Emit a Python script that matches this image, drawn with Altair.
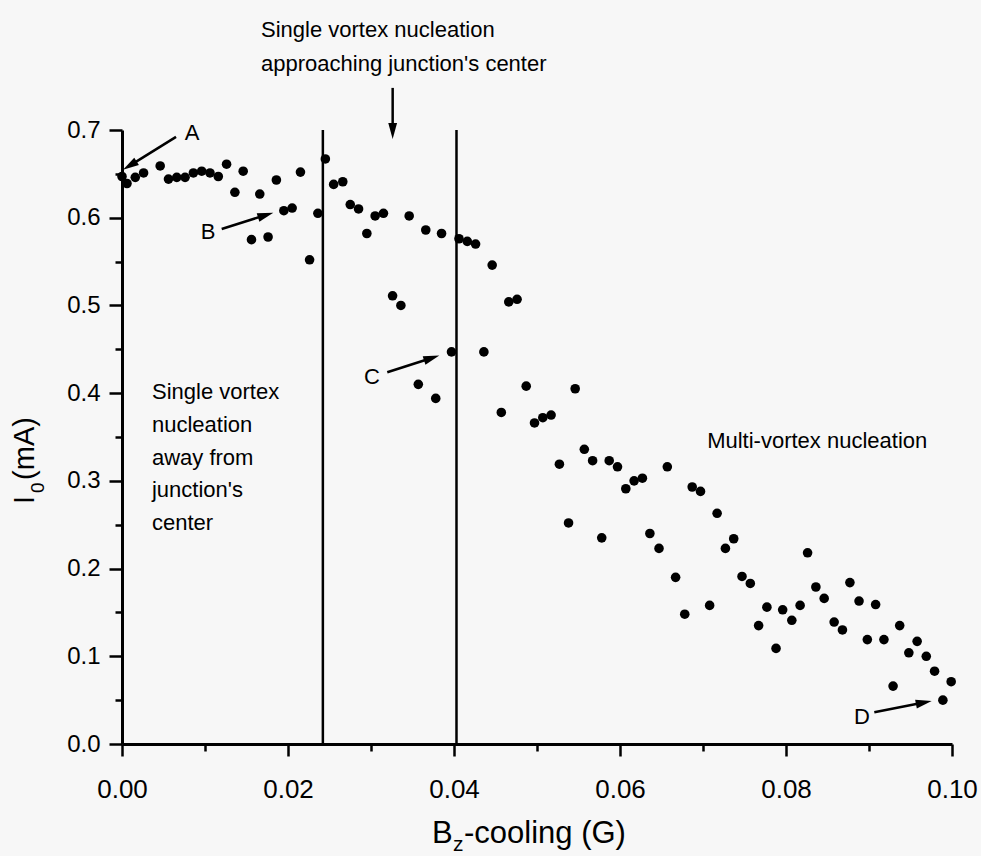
import math
import altair as alt
import pandas as pd

# ---------------- data ----------------
bz = [0.0000, 0.0006, 0.0016, 0.0026, 0.0046, 0.0056, 0.0066, 0.0076, 0.0086, 0.0096,
      0.0106, 0.0116, 0.0126, 0.0136, 0.0146, 0.0156, 0.0166, 0.0176, 0.0186, 0.0195,
      0.0205, 0.0215, 0.0226, 0.0236, 0.0245, 0.0255, 0.0266, 0.0275, 0.0285, 0.0295,
      0.0305, 0.0315, 0.0326, 0.0336, 0.0346, 0.0357, 0.0366, 0.0378, 0.0385, 0.0397,
      0.0406, 0.0416, 0.0426, 0.0436, 0.0446, 0.0457, 0.0466, 0.0476, 0.0487, 0.0497,
      0.0507, 0.0517, 0.0527, 0.0538, 0.0546, 0.0557, 0.0567, 0.0578, 0.0587, 0.0597,
      0.0607, 0.0617, 0.0627, 0.0636, 0.0647, 0.0657, 0.0667, 0.0678, 0.0687, 0.0697,
      0.0708, 0.0717, 0.0727, 0.0737, 0.0747, 0.0757, 0.0767, 0.0777, 0.0788, 0.0796,
      0.0807, 0.0817, 0.0826, 0.0836, 0.0846, 0.0858, 0.0868, 0.0877, 0.0888, 0.0898,
      0.0908, 0.0918, 0.0929, 0.0937, 0.0948, 0.0958, 0.0969, 0.0979, 0.0989, 0.0999]
i0 = [0.647, 0.639, 0.646, 0.651, 0.659, 0.644, 0.646, 0.646, 0.651, 0.653,
      0.651, 0.647, 0.661, 0.629, 0.653, 0.575, 0.627, 0.578, 0.643, 0.608,
      0.611, 0.652, 0.552, 0.605, 0.667, 0.638, 0.641, 0.615, 0.610, 0.582,
      0.602, 0.605, 0.511, 0.500, 0.602, 0.410, 0.586, 0.394, 0.582, 0.447,
      0.576, 0.573, 0.570, 0.447, 0.546, 0.378, 0.504, 0.507, 0.408, 0.366,
      0.372, 0.375, 0.319, 0.252, 0.405, 0.336, 0.323, 0.235, 0.323, 0.316,
      0.291, 0.300, 0.303, 0.240, 0.223, 0.316, 0.190, 0.148, 0.293, 0.288,
      0.158, 0.263, 0.223, 0.234, 0.191, 0.183, 0.135, 0.156, 0.109, 0.153,
      0.141, 0.158, 0.218, 0.179, 0.166, 0.139, 0.130, 0.184, 0.163, 0.119,
      0.159, 0.119, 0.066, 0.135, 0.104, 0.117, 0.100, 0.083, 0.050, 0.071]

region_bounds = [0.0242, 0.0403]

x_ticks = [round(i * 0.01, 2) for i in range(11)]
y_ticks = [round(i * 0.05, 2) for i in range(15)]

# arrows: label, tail (x, y), tip (x, y) in data units
arrow_names = ["A", "B", "C", "D", "top"]
arrow_tail_x = [0.00651, 0.01201, 0.03196, 0.09064, 0.03261]
arrow_tail_y = [0.6922, 0.5872, 0.4238, 0.0361, 0.7480]
arrow_tip_x = [0.00012, 0.01823, 0.03823, 0.09755, 0.03261]
arrow_tip_y = [0.6546, 0.6058, 0.4428, 0.0490, 0.6898]

# point labels
letters = ["A", "B", "C", "D"]
letter_x = [0.00843, 0.01036, 0.03012, 0.08916]
letter_y = [0.6967, 0.5838, 0.4185, 0.0308]

# annotation text lines (left aligned, baseline)
note_text = ["Single vortex nucleation", "approaching junction's center",
             "Single vortex", "nucleation", "away from", "junction's", "center",
             "Multi-vortex nucleation"]
note_x = [0.01675, 0.01675, 0.00361, 0.00361, 0.00361, 0.00361, 0.00361, 0.0705]
note_y = [0.806, 0.7673, 0.3934, 0.3558, 0.3181, 0.2816, 0.2440, 0.3375]

# axis titles, split into pieces for subscripts
x_title_parts = ["B", "z", "-cooling (G)"]
y_title_parts = ["I", "0", "(mA)"]

# ---------------- layout ----------------
W, H = 830, 614
XMAX, YMAX = 0.10, 0.70
PX, PY = W / XMAX, H / YMAX
FONT = "Liberation Sans"

xscale = alt.Scale(domain=[0, XMAX], nice=False, zero=False)
yscale = alt.Scale(domain=[0, YMAX], nice=False, zero=False)

x_axis = alt.Axis(
    values=x_ticks, format=".2f",
    labelExpr="round(datum.value*100) % 2 == 0 ? datum.label : ''",
    tickSize={"condition": {"test": "round(datum.value*100) % 2 == 0", "value": 12}, "value": 7},
    tickWidth=2.5, domainWidth=3, domainColor="black", tickColor="black",
    labelColor="black", labelFont=FONT, labelFontSize=26, labelPadding=20,
    grid=False, labelFlush=False, labelOverlap=False, title=None)
y_axis = alt.Axis(
    values=y_ticks, format=".1f",
    labelExpr="round(datum.value*100) % 10 == 0 ? datum.label : ''",
    tickSize={"condition": {"test": "round(datum.value*100) % 10 == 0", "value": 13}, "value": 7},
    tickWidth=2.5, domainWidth=3, domainColor="black", tickColor="black",
    labelColor="black", labelFont=FONT, labelFontSize=24, labelPadding=9,
    grid=False, labelFlush=False, labelOverlap=False, title=None)


def X(f):
    return alt.X(f"{f}:Q", scale=xscale, axis=x_axis, title=None)


def Y(f):
    return alt.Y(f"{f}:Q", scale=yscale, axis=y_axis, title=None)


pts = pd.DataFrame({"bz": bz, "i0": i0})
points = alt.Chart(pts).mark_circle(size=92, color="black", opacity=1).encode(
    x=X("bz"), y=Y("i0"))

vl = pd.DataFrame({"x": region_bounds, "y0": [0.0] * 2, "y1": [YMAX] * 2})
vlines = alt.Chart(vl).mark_rule(color="black", strokeWidth=2.5).encode(
    x=X("x"), y=Y("y0"), y2="y1:Q")

# arrows
rows = []
HEAD = 8  # shorten shaft in pixels so it ends inside the head
for n, tx, ty, hx, hy in zip(arrow_names, arrow_tail_x, arrow_tail_y, arrow_tip_x, arrow_tip_y):
    dx = (hx - tx) * PX
    dy = -(hy - ty) * PY
    L = math.hypot(dx, dy)
    ux, uy = dx / L, dy / L
    ang = math.degrees(math.atan2(dy, dx)) % 360
    rows.append({"n": n, "tx": tx, "ty": ty, "hx": hx, "hy": hy,
                 "ex": hx - HEAD * ux / PX, "ey": hy + HEAD * uy / PY, "ang": ang})
arr = pd.DataFrame(rows)
shafts = alt.Chart(arr).mark_rule(color="black", strokeWidth=2.5).encode(
    x=X("tx"), y=Y("ty"), x2="ex:Q", y2="ey:Q")
heads = alt.Chart(arr).mark_point(
    shape="M0,0L-2,-0.55L-2,0.55Z", filled=True, size=256, color="black",
    opacity=1, strokeWidth=0).encode(
    x=X("hx"), y=Y("hy"), angle=alt.Angle("ang:Q", scale=None))

lt = pd.DataFrame({"t": letters, "x": letter_x, "y": letter_y})
letter_marks = alt.Chart(lt).mark_text(
    font=FONT, fontSize=22, color="black", align="center", baseline="middle").encode(
    x=X("x"), y=Y("y"), text="t:N")

nt = pd.DataFrame({"t": note_text, "x": note_x, "y": note_y})
notes = alt.Chart(nt).mark_text(
    font=FONT, fontSize=22, color="black", align="left", baseline="alphabetic").encode(
    x=X("x"), y=Y("y"), text="t:N")


def piece(text, x, y, size, dx, dy, angle=0):
    d = pd.DataFrame({"t": [text], "x": [x], "y": [y]})
    kw = dict(font=FONT, fontSize=size, color="black", align="left",
              baseline="alphabetic", dx=dx, dy=dy)
    if angle:
        kw["angle"] = angle
    return alt.Chart(d).mark_text(**kw).encode(x=X("x"), y=Y("y"), text="t:N")


# x title: B_z-cooling (G)
XT_X, XT_Y = 0.03735, -0.1129
xt_layers = [
    piece(x_title_parts[0], XT_X, XT_Y, 31, 0, 0),
    piece(x_title_parts[1], XT_X, XT_Y, 21, 21, 8),
    piece(x_title_parts[2], XT_X, XT_Y, 31, 32, 0),
]
# y title: I_0(mA), rotated
YT_X, YT_Y = -0.0106, 0.2737
yt_layers = [
    piece(y_title_parts[0], YT_X, YT_Y, 29, 0, 0, 270),
    piece(y_title_parts[1], YT_X, YT_Y, 19, 11, 10, 270),
    piece(y_title_parts[2], YT_X, YT_Y, 29, 24, 0, 270),
]

chart = alt.layer(
    vlines, shafts, heads, points, letter_marks, notes, *xt_layers, *yt_layers
).properties(
    width=W, height=H, autosize="none",
    padding={"left": 122, "top": 130, "right": 29, "bottom": 112},
    background="#f7f7f7",
).configure_view(stroke=None)

chart.save("out.html", embed_options={"renderer": "svg", "actions": False})
